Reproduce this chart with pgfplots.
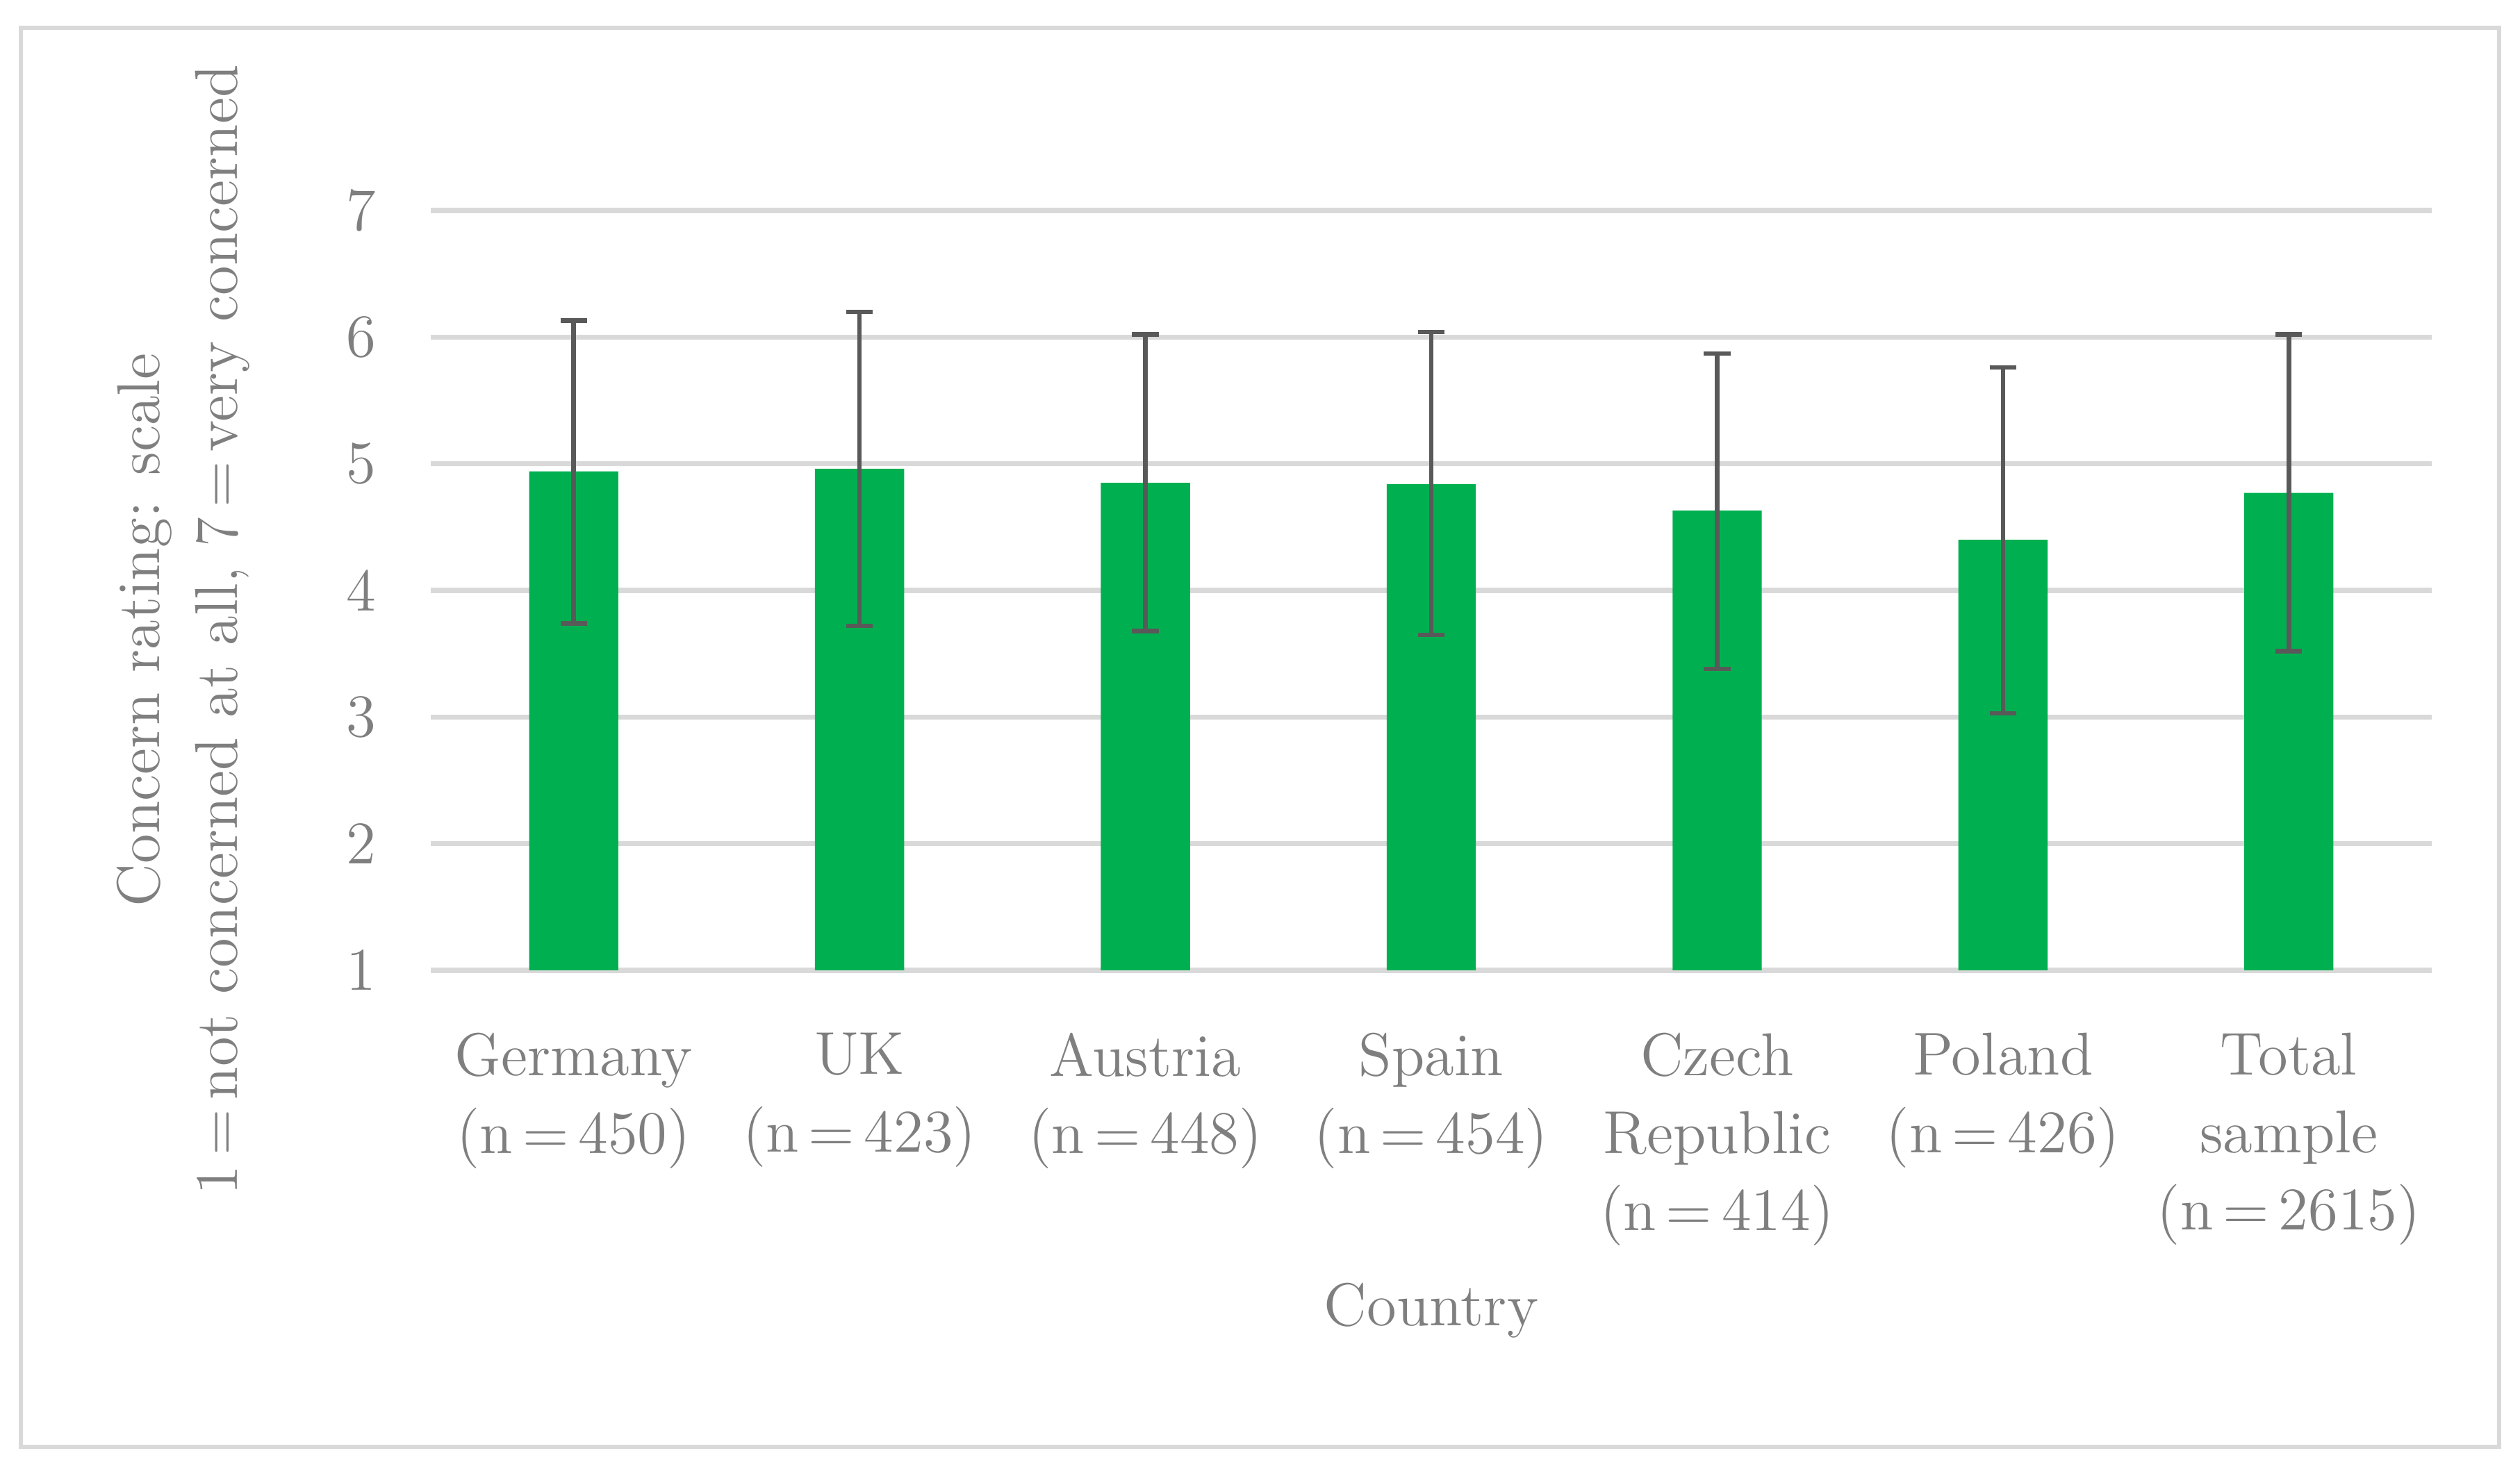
\documentclass[border=0pt]{standalone}
\usepackage{pgfplots}
\pgfplotsset{compat=1.18}
\usepackage{pgfplotstable}
\definecolor{bargreen}{HTML}{00B050}
\definecolor{gridgray}{HTML}{D9D9D9}
\definecolor{txtgray}{HTML}{7F7F7F}
\definecolor{errgray}{HTML}{595959}
\newcommand{\eq}{\hspace{0.16em}=\hspace{0.16em}}
\pgfplotstableread{
x y ep em
0 4.94 1.19 1.20
1 4.96 1.24 1.24
2 4.85 1.17 1.17
3 4.84 1.20 1.19
4 4.63 1.24 1.25
5 4.40 1.36 1.37
6 4.77 1.25 1.25
}\datatable
\begin{document}
\begin{tikzpicture}
\useasboundingbox (0,0) rectangle (18cm,10.5459cm);
\draw[gridgray, line width=0.85pt] (0.1489cm,0.2084cm) rectangle (17.851cm,10.3475cm);
\begin{axis}[
  at={(3.0769cm,3.6129cm)}, anchor=south west,
  scale only axis, width=14.293cm, height=5.4294cm,
  xmin=-0.5, xmax=6.5, ymin=1, ymax=7,
  ytick={1,2,3,4,5,6,7},
  xtick={0,1,2,3,4,5,6},
  xticklabels={{Germany\\(n\eq 450)},{UK\\(n\eq 423)},{Austria\\(n\eq 448)},{Spain\\(n\eq 454)},{Czech\\Republic\\(n\eq 414)},{Poland\\(n\eq 426)},{Total\\sample\\(n\eq 2615)}},
  major tick length=0pt,
  axis line style={draw=none},
  ymajorgrids, grid style={gridgray, line width=1.07pt},
  /pgf/number format/assume math mode=true,
  tick label style={font=\fontsize{12.3}{15.7}\selectfont, text=txtgray},
  xticklabel style={align=center, yshift=-0.325cm},
  yticklabel style={xshift=-0.268cm},
  xlabel={Country},
  xlabel style={font=\fontsize{12.3}{15.7}\selectfont, text=txtgray, at={(axis description cs:0.5,0)}, anchor=north, yshift=-2.11cm},
  ylabel={Concern rating: scale\\1\eq not concerned at all, 7\eq very concerned},
  ylabel style={font=\fontsize{12.3}{15.7}\selectfont, text=txtgray, align=center, at={(axis description cs:-0.082,0.448)}, anchor=south},
]
\addplot[ybar, bar width=0.637cm, fill=bargreen, draw=none,
  error bars/.cd, y dir=both, y explicit,
  error bar style={errgray, line width=0.93pt},
  error mark options={errgray, line width=0.93pt, rotate=90, mark size=0.095cm}]
  table[x=x, y=y, y error plus=ep, y error minus=em] {\datatable};
\end{axis}
\end{tikzpicture}
\end{document}
